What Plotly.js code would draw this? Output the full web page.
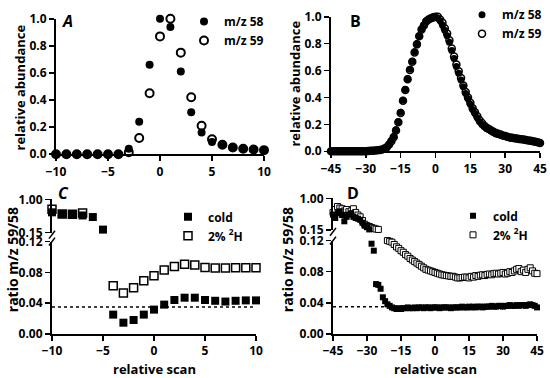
<!DOCTYPE html>
<html><head><meta charset="utf-8">
<script src="https://cdn.plot.ly/plotly-3.0.1.min.js"></script>
<style>html,body{margin:0;padding:0;background:#fff}#chart{width:550px;height:378px}</style>
</head><body><div id="chart"></div>
<script>
// ---------- Panel A ----------
const scanA = [-10,-9,-8,-7,-6,-5,-4,-3,-2,-1,0,1,2,3,4,5,6,7,8,9,10];
const a58 = [0,0,0,0,0,0,0,0.04,0.24,0.66,1.0,0.94,0.61,0.31,0.16,0.09,0.07,0.05,0.04,0.035,0.03];
const a59 = [0,0,0,0,0,0,0,0.015,0.12,0.45,0.87,1.0,0.75,0.42,0.21,0.11,0.07,0.05,0.04,0.035,0.03];

// ---------- Panel B ----------
const scanB = [-45,-44,-43,-42,-41,-40,-39,-38,-37,-36,-35,-34,-33,-32,-31,-30,-29,-28,-27,-26,-25,-24,-23,-22,-21,-20,-19,-18,-17,-16,-15,-14,-13,-12,-11,-10,-9,-8,-7,-6,-5,-4,-3,-2,-1,0,1,2,3,4,5,6,7,8,9,10,11,12,13,14,15,16,17,18,19,20,21,22,23,24,25,26,27,28,29,30,31,32,33,34,35,36,37,38,39,40,41,42,43,44,45];
const b58 = [0,0,0,0,0,0,0,0,0,0,0,0,0,0,0,
  0.001,0.002,0.003,0.004,0.005,0.007,0.01,0.014,
  0.02,0.03,0.05,0.08,0.11,0.16,0.22,0.29,0.38,0.46,0.54,0.61,0.67,0.74,0.80,0.86,0.91,0.94,0.97,0.98,0.99,1.0,
  1.0,0.99,0.97,0.94,0.90,0.86,0.81,0.75,0.69,0.63,0.58,0.53,0.48,0.43,0.39,0.35,0.31,0.28,0.25,0.22,
  0.20,0.185,0.17,0.16,0.15,0.14,0.13,0.125,0.12,0.115,0.11,0.105,0.10,0.098,0.095,0.093,0.09,0.087,0.085,0.082,
  0.08,0.077,0.073,0.07,0.066,0.06];
const b59 = [0,0,0,0,0,0,0,0,0,0,0,0,0,0,0,
  0.001,0.002,0.003,0.004,0.005,0.007,0.01,0.014,
  0.02,0.03,0.05,0.075,0.105,0.155,0.215,0.285,0.375,0.455,0.535,0.605,0.665,0.735,0.795,0.855,0.905,0.935,0.965,0.98,0.99,0.995,
  1.0,1.0,0.98,0.955,0.915,0.875,0.825,0.765,0.705,0.645,0.595,0.545,0.49,0.44,0.40,0.36,0.32,0.29,0.26,0.23,
  0.21,0.19,0.175,0.165,0.155,0.145,0.135,0.13,0.124,0.118,0.113,0.108,0.103,0.10,0.097,0.095,0.092,0.089,0.087,0.084,
  0.081,0.078,0.075,0.071,0.067,0.062];

// ---------- Panel C ----------
const scanC = [-10,-9,-8,-7,-6,-5,-4,-3,-2,-1,0,1,2,3,4,5,6,7,8,9,10];
const cCold = [0.67,0.625,0.625,0.59,0.55,0.23,0.025,0.0145,0.018,0.025,0.0315,0.038,0.044,0.047,0.047,0.044,0.043,0.042,0.043,0.0435,0.0435];
const cH2   = [0.75,0.63,0.62,0.65,null,null,0.0626,0.053,0.060,0.069,0.0757,0.083,0.0877,0.0906,0.0894,0.0864,0.0855,0.0855,0.086,0.086,0.086];

// ---------- Panel D ----------
const scanD = scanB.slice();
const dCold = [0.56,0.47,0.60,0.65,0.55,0.38,0.50,0.56,0.60,0.50,0.47,0.45,0.42,0.34,0.26,0.22,0.16,
  0.116,0.107,0.064,0.063,0.058,0.047,0.042,0.038,0.036,0.034,0.033,0.032,0.033,0.032,
  0.033,0.033,0.034,0.033,0.033,0.034,0.033,0.034,0.034,0.033,
  0.034,0.034,0.033,0.034,0.034,0.034,0.033,0.034,0.034,0.034,
  0.034,0.033,0.034,0.034,0.034,0.034,0.035,0.034,0.034,0.035,
  0.034,0.035,0.034,0.035,0.035,0.034,0.035,0.035,0.035,0.036,
  0.035,0.035,0.036,0.036,0.035,0.036,0.036,0.037,0.036,0.036,
  0.037,0.036,0.037,0.037,0.036,0.037,0.038,0.037,0.036,0.034];
const dH2 = [0.62,0.70,0.78,0.74,0.72,0.66,0.70,0.64,0.66,0.72,0.62,0.55,0.50,0.40,0.30,0.26,0.24,0.21,0.19,0.17,0.16,
  0.14,0.13,0.125,
  0.120,0.119,0.118,0.115,0.112,0.110,0.107,0.105,0.102,0.100,
  0.097,0.095,0.093,0.091,0.089,0.087,0.085,0.083,0.082,0.081,
  0.080,0.079,0.078,0.077,0.076,0.0755,0.075,0.0745,0.074,0.074,
  0.073,0.072,0.072,0.0725,0.073,0.073,0.072,0.074,0.073,0.075,
  0.074,0.0755,0.076,0.075,0.0765,0.077,0.076,0.0775,0.078,0.077,
  0.078,0.079,0.077,0.078,0.080,0.079,0.081,0.083,0.084,0.080,
  0.082,0.079,0.083,0.085,0.081,0.078,0.0775];

const baseline = 0.035;          // dotted reference level in C and D
const breakLow = 0.12, breakHigh = 0.15; // axis break
const ticksA = [-10,-5,0,5,10];
const ticksB = [-45,-30,-15,0,15,30,45];

// ---------- helpers ----------
const W = 550, H = 378;
const px = v => v / W;
const py = v => 1 - v / H;
const FONT = 'Open Sans, Liberation Sans, sans-serif';
const tf = {family: FONT, size: 12, color: '#000', weight: 700};

function part(xs, ys, keep) {
  const x = [], y = [];
  xs.forEach((v, i) => { if (ys[i] != null && keep(ys[i])) { x.push(v); y.push(ys[i]); } });
  return {x, y};
}
const upper = v => v >= breakHigh;
const lower = v => v <= breakLow;

const filledCircle = s => ({symbol: 'circle', size: s, color: '#000'});
const openCircle = s => ({symbol: 'circle-open', size: s, color: '#000', line: {width: 2, color: '#000'}});
const filledSq = s => ({symbol: 'square', size: s, color: '#000'});
const openSq = (s, w) => ({symbol: 'square', size: s, color: '#fff', line: {width: w, color: '#000'}});

const traces = [];
// A (open first, filled on top)
traces.push({type: 'scatter', mode: 'markers', x: scanA, y: a59, xaxis: 'x', yaxis: 'y', name: 'm/z 59', marker: openCircle(8), cliponaxis: false, legend: 'legend', legendrank: 2});
traces.push({type: 'scatter', mode: 'markers', x: scanA, y: a58, xaxis: 'x', yaxis: 'y', name: 'm/z 58', marker: filledCircle(8), cliponaxis: false, legend: 'legend', legendrank: 1});
// B
traces.push({type: 'scatter', mode: 'markers', x: scanB, y: b59, xaxis: 'x2', yaxis: 'y2', name: 'm/z 59', marker: {symbol: 'circle', size: 7, color: '#fff', line: {width: 1.5, color: '#000'}}, cliponaxis: false, legend: 'legend2', legendrank: 2});
traces.push({type: 'scatter', mode: 'markers', x: scanB, y: b58, xaxis: 'x2', yaxis: 'y2', name: 'm/z 58', marker: filledCircle(7), cliponaxis: false, legend: 'legend2', legendrank: 1});

// C & D with broken axes
function broken(xs, ys, xa, yLow, yUp, name, marker, leg, rank) {
  const lo = part(xs, ys, lower), up = part(xs, ys, upper);
  traces.push({type: 'scatter', mode: 'markers', x: up.x, y: up.y, xaxis: xa, yaxis: yUp, name, marker, cliponaxis: false, legend: leg, legendgroup: leg + name, showlegend: false});
  traces.push({type: 'scatter', mode: 'markers', x: lo.x, y: lo.y, xaxis: xa, yaxis: yLow, name, marker, cliponaxis: false, legend: leg, legendgroup: leg + name, legendrank: rank});
}
broken(scanC, cH2, 'x3', 'y3', 'y4', '2% <sup>2</sup>H', openSq(8, 1.5), 'legend3', 2);
broken(scanC, cCold, 'x3', 'y3', 'y4', 'cold', filledSq(8), 'legend3', 1);
broken(scanD, dH2, 'x4', 'y5', 'y6', '2% <sup>2</sup>H', openSq(6, 1), 'legend4', 2);
broken(scanD, dCold, 'x4', 'y5', 'y6', 'cold', filledSq(6), 'legend4', 1);

const ax = {showline: true, linewidth: 2, linecolor: '#000', ticks: 'outside', ticklen: 5, tickwidth: 1.5, tickcolor: '#000',
  showgrid: false, zeroline: false, tickfont: tf, fixedrange: true};

const dom = {
  A: {x: [px(56), px(264)], y: [py(150), py(12)]},
  B: {x: [px(331), px(540)], y: [py(147), py(10)]},
  C: {x: [px(52), px(256)], lo: [py(333), py(239)], up: [py(230), py(196)]},
  D: {x: [px(333), px(537)], lo: [py(333), py(238)], up: [py(227), py(195)]}
};

const legBase = {bgcolor: 'rgba(0,0,0,0)', borderwidth: 0, font: tf, xanchor: 'left', yanchor: 'top', itemwidth: 30, tracegroupgap: 0};

function slash(xPix, yPix) {
  return {type: 'line', xref: 'paper', yref: 'paper', x0: px(xPix - 3), y0: py(yPix + 4), x1: px(xPix + 3), y1: py(yPix - 4), line: {color: '#000', width: 1.5}};
}

const ann = (text, x, y, size, angle) => ({text, x: px(x), y: py(y), xref: 'paper', yref: 'paper', showarrow: false,
  font: {family: FONT, size, color: '#000', weight: 700}, textangle: angle || 0, xanchor: 'center', yanchor: 'middle'});

const layout = {
  width: W, height: H, margin: {l: 0, r: 0, t: 0, b: 0}, paper_bgcolor: '#fff', plot_bgcolor: 'rgba(0,0,0,0)',
  font: {family: FONT, color: '#000'},
  xaxis: {...ax, domain: dom.A.x, range: [-10, 10], tickvals: ticksA, anchor: 'y'},
  yaxis: {...ax, domain: dom.A.y, range: [0, 1], tick0: 0, dtick: 0.2, tickformat: '.1f', anchor: 'x'},
  xaxis2: {...ax, domain: dom.B.x, range: [-45, 45], tickvals: ticksB, anchor: 'y2'},
  yaxis2: {...ax, domain: dom.B.y, range: [0, 1], tick0: 0, dtick: 0.2, tickformat: '.1f', anchor: 'x2'},
  xaxis3: {...ax, domain: dom.C.x, range: [-10, 10], tickvals: ticksA, anchor: 'y3'},
  yaxis3: {...ax, domain: dom.C.lo, range: [0, breakLow], tickvals: [0, 0.04, 0.08, 0.12], tickformat: '.2f', anchor: 'x3'},
  yaxis4: {...ax, domain: dom.C.up, range: [breakHigh, 1], tickvals: [breakHigh, 1], tickformat: '.2f', anchor: 'x3'},
  xaxis4: {...ax, domain: dom.D.x, range: [-45, 45], tickvals: ticksB, anchor: 'y5'},
  yaxis5: {...ax, domain: dom.D.lo, range: [0, breakLow], tickvals: [0, 0.04, 0.08, 0.12], tickformat: '.2f', anchor: 'x4'},
  yaxis6: {...ax, domain: dom.D.up, range: [breakHigh, 1], tickvals: [breakHigh, 1], tickformat: '.2f', anchor: 'x4'},
  legend: {...legBase, x: px(184), y: py(0)},
  legend2: {...legBase, x: px(462), y: py(-7)},
  legend3: {...legBase, x: px(168), y: py(199)},
  legend4: {...legBase, x: px(453), y: py(198)},
  shapes: [
    {type: 'line', xref: 'x3 domain', yref: 'y3', x0: 0, x1: 1, y0: baseline, y1: baseline, line: {color: '#000', width: 1.5, dash: 'dot'}},
    {type: 'line', xref: 'x4 domain', yref: 'y5', x0: 0, x1: 1, y0: baseline, y1: baseline, line: {color: '#000', width: 1.5, dash: 'dot'}},
    slash(52, 232), slash(52, 239), slash(333, 229), slash(333, 238)
  ],
  annotations: [
    ann('<i>A</i>', 67, 14, 16),
    ann('B', 355, 14, 16),
    ann('<i>C</i>', 63, 189, 16),
    ann('D', 353, 189, 16),
    ann('relative abundance', 20, 82, 13, -90),
    ann('relative abundance', 295, 78, 13, -90),
    ann('ratio m/z 59/58', 12, 258, 14, -90),
    ann('ratio m/z 59/58', 287, 258, 14, -90),
    ann('relative scan', 154, 369, 13),
    ann('relative scan', 435, 369, 13)
  ]
};

Plotly.newPlot('chart', traces, layout, {staticPlot: true, displayModeBar: false});
</script>
</body></html>
